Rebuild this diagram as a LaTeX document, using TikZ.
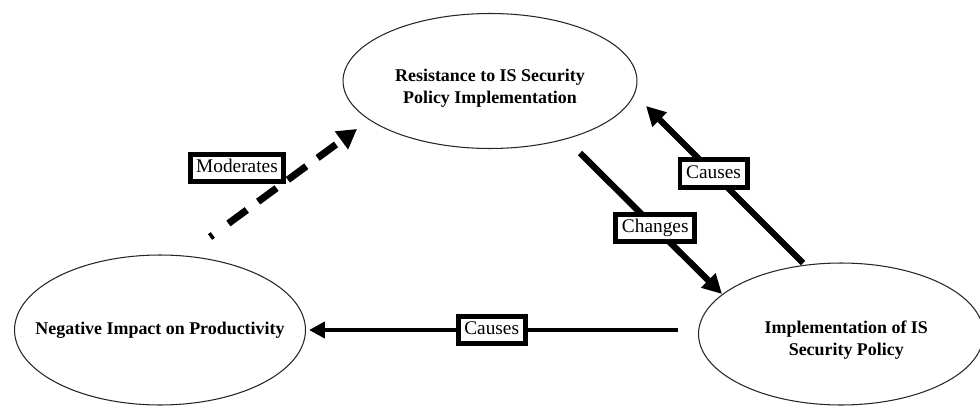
\documentclass[tikz,border=0pt]{standalone}
\usepackage{fontspec}
\setmainfont{Liberation Serif}
\usetikzlibrary{shapes.geometric,arrows.meta}
\begin{document}
\begin{tikzpicture}[x=0.02cm,y=-0.02cm,
  oval/.style={draw=black!85,line width=0.6pt,ellipse,inner sep=0pt},
  ovaltext/.style={align=center,font=\fontsize{10.2}{12.5}\selectfont\bfseries},
  lab/.style={draw=black,fill=white,line width=2.8pt,inner xsep=3.5pt,inner ysep=2.5pt,
    text height=8pt,text depth=2.5pt,font=\fontsize{11}{13}\selectfont},
  thick arrow/.style={line width=3.6pt,-{Triangle[length=11pt,width=11pt]}},
  thin arrow/.style={line width=2.4pt,-{Triangle[length=9pt,width=9pt]}},
  dash arrow/.style={line width=4pt,dash pattern=on 2pt off 11pt on 13pt off 8pt on 13pt off 8pt on 13pt off 8pt on 13pt off 8pt on 13pt off 8pt on 13pt off 8pt,-{Triangle[length=11pt,width=12pt]}}]
\useasboundingbox (0,0) rectangle (980,412);
\fill[white] (0,0) rectangle (980,412);
\node[oval,minimum width=5.88cm,minimum height=2.7cm,
  label={[ovaltext,yshift=-4pt]center:Resistance to IS Security\\Policy Implementation}] (res) at (490,81) {};
\node[oval,minimum width=5.82cm,minimum height=3.0cm,
  label={[ovaltext]center:Negative Impact on Productivity}] (neg) at (160,330) {};
\node[oval,minimum width=5.7cm,minimum height=2.84cm,
  label={[ovaltext,yshift=-3.5pt,xshift=3pt]center:Implementation of IS\\Security Policy}] (imp) at (841,334) {};
\coordinate (d1) at (210,237);
\coordinate (d2) at (357,129);
\coordinate (c1) at (580,153);
\coordinate (c2) at (722,294);
\coordinate (u1) at (803,263);
\coordinate (u2) at (646,106);
\coordinate (b1) at (678,330);
\coordinate (b2) at (309,330);
\draw[dash arrow] (d1) -- (d2);
\node[lab] (mod) at (237,168) {Moderates};
\draw[thick arrow] (c1) -- (c2) node[lab,pos=0.53] (chg) {Changes};
\draw[thick arrow] (u1) -- (u2) node[lab,pos=0.57] (cau1) {Causes};
\draw[thin arrow] (b1) -- (b2) node[lab,pos=0.505] (cau2) {Causes};
\end{tikzpicture}
\end{document}
